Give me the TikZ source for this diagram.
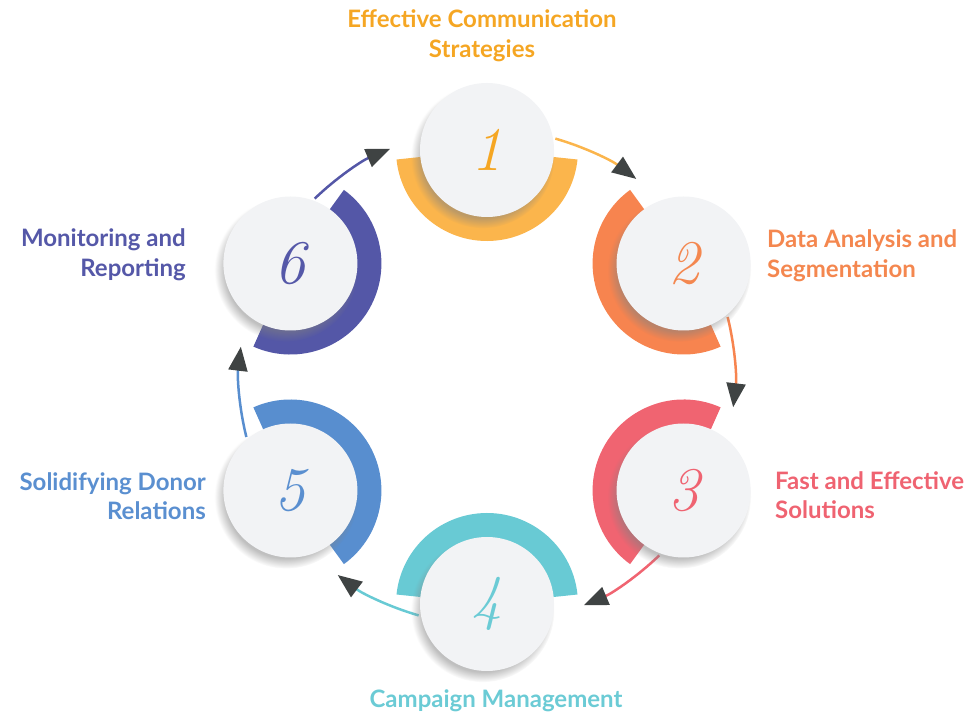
\documentclass[tikz,border=0pt]{standalone}
\usepackage{fontspec}
\newfontfamily\lato{Lato}
\usetikzlibrary{arrows.meta,shadows,fadings}
\definecolor{c1t}{HTML}{F5A623}\definecolor{c1b}{HTML}{FBB54C}
\definecolor{c2t}{HTML}{F4874F}\definecolor{c2b}{HTML}{F7844F}
\definecolor{c3t}{HTML}{EF6371}\definecolor{c3b}{HTML}{F06471}
\definecolor{c4t}{HTML}{6BCBD5}\definecolor{c4b}{HTML}{68CAD4}
\definecolor{c5t}{HTML}{5A8FD0}\definecolor{c5b}{HTML}{588ECF}
\definecolor{c6t}{HTML}{5558A8}\definecolor{c6b}{HTML}{5457A7}
\definecolor{arrowc}{HTML}{3F4343}
\definecolor{discfill}{HTML}{F2F3F5}
\newcommand\drawband[3]{%
  \fill[#3] ([shift={(#2-84:91)}]#1) arc[start angle=#2-84, end angle=#2+84, radius=91]
    -- ([shift={(#2+84:60)}]#1) arc[start angle=#2+84, end angle=#2-84, radius=60] -- cycle;}
\begin{document}
\begin{tikzpicture}[x=1pt,y=1pt,
  disc/.style={circle, minimum size=134pt, inner sep=0pt, fill=discfill,
    circular drop shadow={shadow xshift=-4pt, shadow yshift=-6pt, shadow scale=1.07, opacity=0.5}},
  numtxt/.style={font=\fontsize{62}{62}\selectfont\itshape},
  lbl/.style={font=\lato\bfseries\fontsize{24}{29.5}\selectfont, inner sep=0pt},
  flow/.style={line width=2.5pt, -{Triangle[length=24pt,width=19pt,color=arrowc]}}
]
\useasboundingbox (0,0) rectangle (966,715);
\coordinate (C) at (487,338);
\coordinate (p1) at ([shift={(90:227)}]C);
\coordinate (p2) at ([shift={(30:227)}]C);
\coordinate (p3) at ([shift={(-30:227)}]C);
\coordinate (p4) at ([shift={(-90:227)}]C);
\coordinate (p5) at ([shift={(210:227)}]C);
\coordinate (p6) at ([shift={(150:227)}]C);
% bands
\drawband{p1}{270}{c1b}
\drawband{p2}{210}{c2b}
\drawband{p3}{150}{c3b}
\drawband{p4}{90}{c4b}
\drawband{p5}{30}{c5b}
\drawband{p6}{-30}{c6b}
% arrow ends
\coordinate (a1) at ([shift={(74:248)}]C);
\coordinate (a2) at ([shift={(14:248)}]C);
\coordinate (a3) at ([shift={(-46:248)}]C);
\coordinate (a4) at ([shift={(-106:248)}]C);
\coordinate (a5) at ([shift={(194:248)}]C);
\coordinate (a6) at ([shift={(134:248)}]C);
\draw[flow,c1b] (a1) arc[start angle=74, end angle=53, radius=248];
\draw[flow,c2b] (a2) arc[start angle=14, end angle=-7, radius=248];
\draw[flow,c3b] (a3) arc[start angle=-46, end angle=-67, radius=248];
\draw[flow,c4b] (a4) arc[start angle=-106, end angle=-127, radius=248];
\draw[flow,c5b] (a5) arc[start angle=194, end angle=173, radius=248];
\draw[flow,c6b] (a6) arc[start angle=134, end angle=113, radius=248];
% discs
\node[disc,numtxt,text=c1t] (n1) at (p1) {1};
\node[disc,numtxt,text=c2t] (n2) at (p2) {2};
\node[disc,numtxt,text=c3t] (n3) at (p3) {3};
\node[disc,numtxt,text=c4t] (n4) at (p4) {4};
\node[disc,numtxt,text=c5t] (n5) at (p5) {5};
\node[disc,numtxt,text=c6t] (n6) at (p6) {6};
% labels
\node[lbl,text=c1t,align=center] (l1) at (482,679) {Effective Communication\\Strategies};
\node[lbl,text=c2t,align=left,anchor=west] (l2) at (767,459) {Data Analysis and\\Segmentation};
\node[lbl,text=c3t,align=left,anchor=west] (l3) at (775,220) {Fast and Effective\\Solutions};
\node[lbl,text=c4t,anchor=base] (l4) at (496,8) {Campaign Management};
\node[lbl,text=c5t,align=right,anchor=east] (l5) at (206,219) {Solidifying Donor\\Relations};
\node[lbl,text=c6t,align=right,anchor=east] (l6) at (186,460) {Monitoring and\\Reporting};
\end{tikzpicture}
\end{document}
